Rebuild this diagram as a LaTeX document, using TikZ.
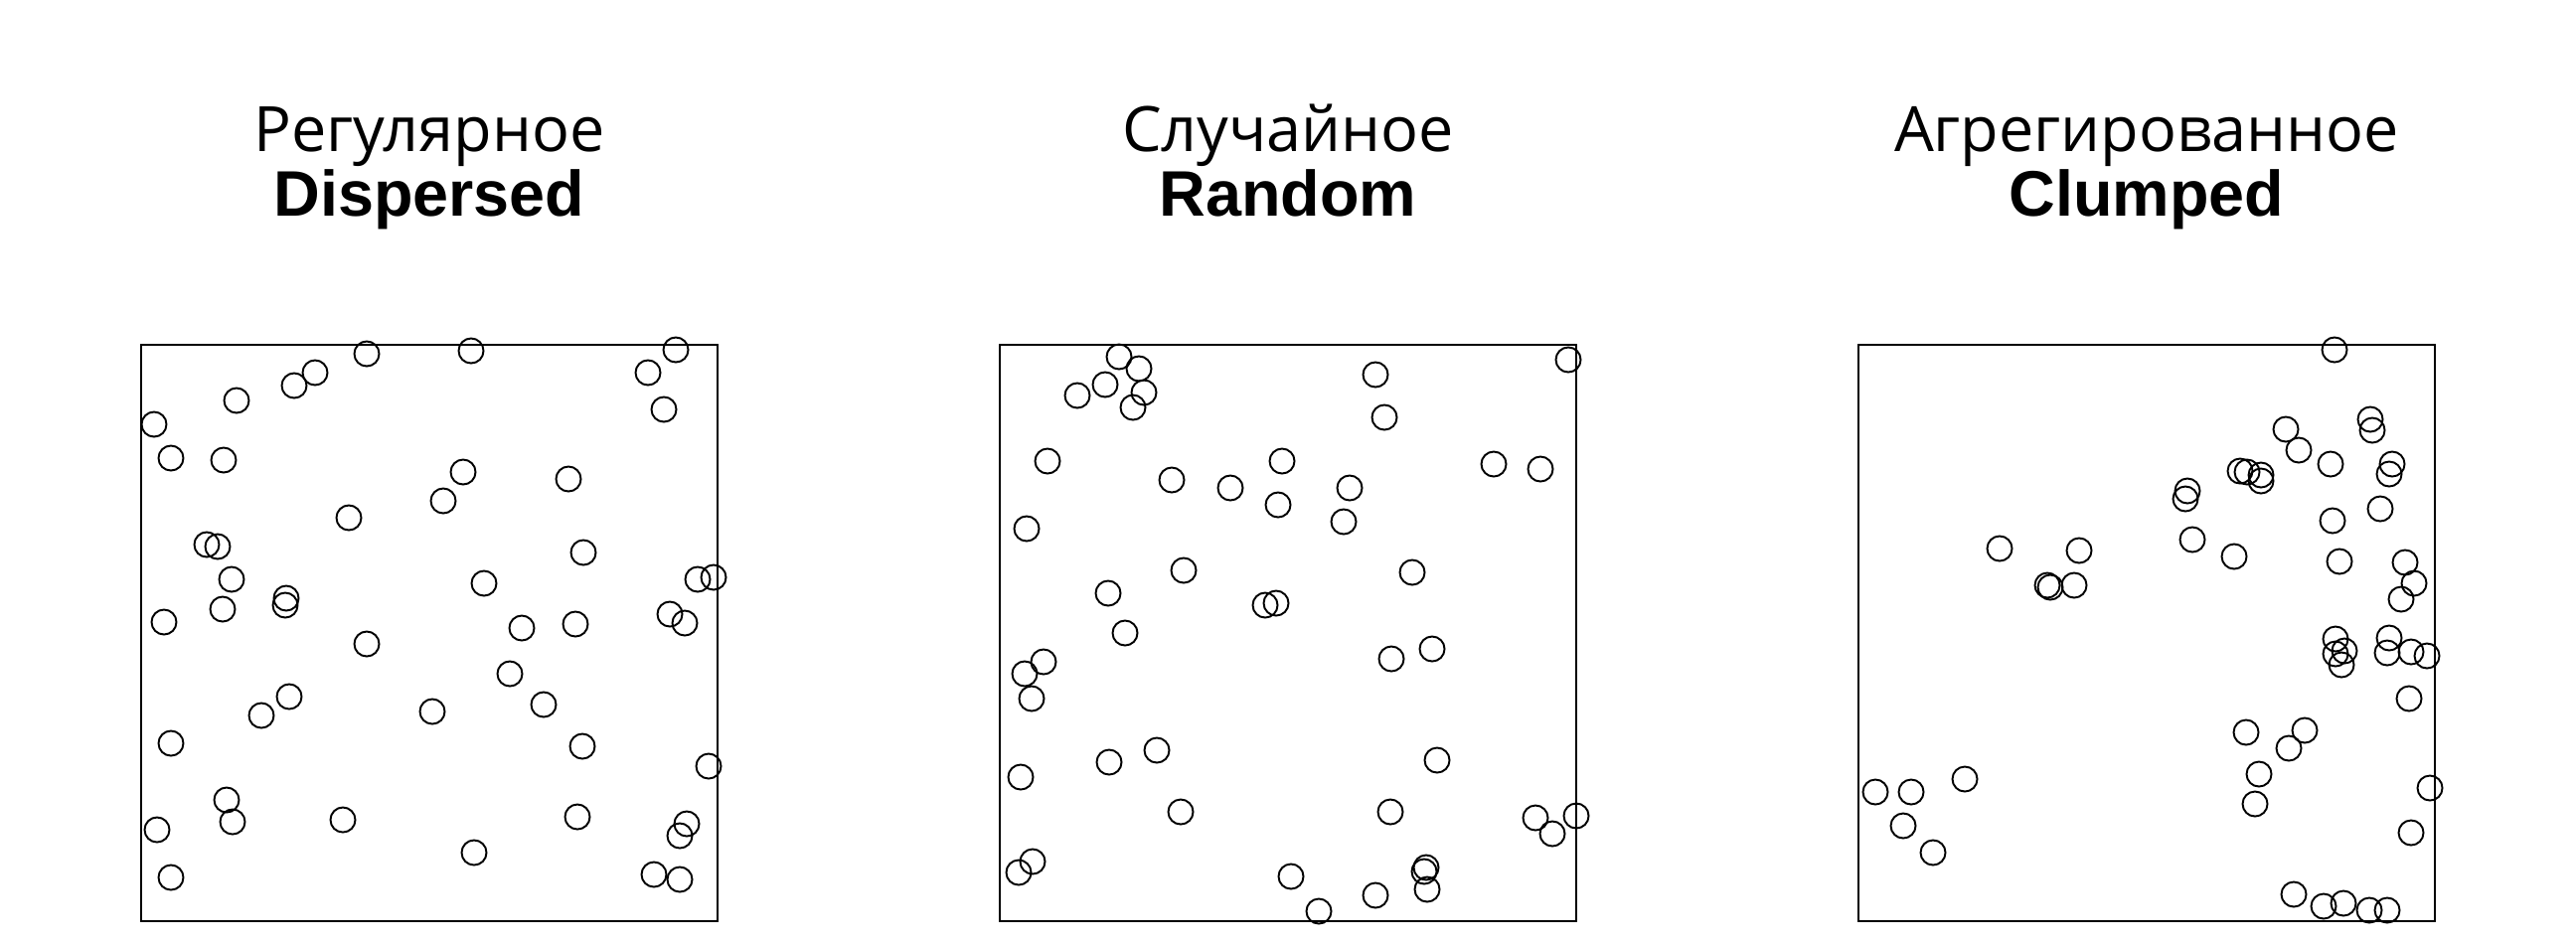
\documentclass[tikz,border=0pt]{standalone}
\usepackage{fontspec}
\setmainfont{Liberation Sans}
\newfontfamily\rufont{Open Sans}

\begin{document}
\begin{tikzpicture}[x=.01cm,y=-.01cm,line width=.55pt,
  rutitle/.style={font=\rufont\fontsize{17.9}{21}\selectfont,anchor=base},
  entitle/.style={font=\bfseries\fontsize{18.4}{22}\selectfont,anchor=base},
  pt/.style={radius=.125cm}]
\useasboundingbox (0,0) rectangle (2592,950);
% titles and frames
\foreach \xo/\ru/\en [count=\k] in {142/Регулярное/Dispersed,1006/Случайное/Random,1870/Агрегированное/Clumped}{
  \node[rutitle] (ru\k) at (\xo+290,152) {\ru};
  \node[entitle] (en\k) at (\xo+290,217) {\en};
  \draw (\xo,347) rectangle +(580,580);}
% dispersed
\begin{scope}[shift={(142,347)}]
\foreach \x/\y in {227/9,332/6,538/5,175/28,154/41,96/56,510/28,526/65,13/80,30/114,83/116,324/128,430/135,304/157,209/174,66/201,77/203,445/209,91/236,345/240,560/236,576/234,146/255,145/262,82/266,23/279,383/285,437/281,532/271,547/280,227/301,371/331,149/354,121/373,293/369,405/362,30/401,444/404,571/424,86/458,92/480,203/478,439/475,16/488,549/482,542/494,335/511,30/536,516/533,542/538}
  \draw (\x,\y) circle[pt];
\end{scope}
% random
\begin{scope}[shift={(1006,347)}]
\foreach \x/\y in {120/12,140/24,106/40,145/48,78/51,134/63,378/30,387/73,572/15,48/117,284/117,497/120,544/125,173/136,232/144,352/144,280/161,346/178,27/185,185/227,415/229,109/250,267/262,278/260,126/290,44/319,25/331,32/356,394/316,435/306,110/420,158/408,21/435,440/418,182/470,393/470,539/476,556/492,580/474,33/520,19/531,293/535,321/570,378/554,429/526,427/530,430/548}
  \draw (\x,\y) circle[pt];
\end{scope}
% clumped
\begin{scope}[shift={(1870,347)}]
\foreach \x/\y in {479/5,515/75,517/86,430/85,443/106,475/120,537/120,534/130,384/127,391/128,405/131,405/137,331/147,329/155,525/165,477/177,336/196,378/213,142/205,222/207,190/242,193/244,217/242,484/218,550/219,559/240,546/256,480/296,489/308,480/311,486/322,534/295,532/310,556/309,572/313,554/356,390/390,449/388,433/406,403/432,399/462,575/446,556/491,17/450,53/450,107/437,45/484,75/511,438/553,468/565,488/562,514/569,532/569}
  \draw (\x,\y) circle[pt];
\end{scope}
\end{tikzpicture}
\end{document}
